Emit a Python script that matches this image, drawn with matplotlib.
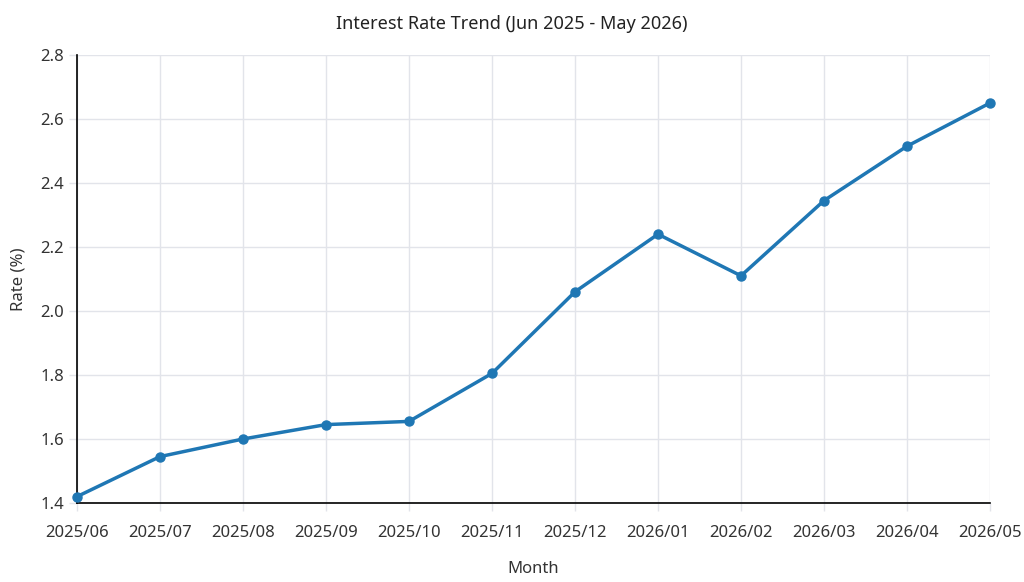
import matplotlib
matplotlib.use('Agg')
import matplotlib.pyplot as plt

months = ['2025/06', '2025/07', '2025/08', '2025/09', '2025/10', '2025/11',
          '2025/12', '2026/01', '2026/02', '2026/03', '2026/04', '2026/05']
rates = [1.42, 1.545, 1.60, 1.645, 1.655, 1.805, 2.06, 2.24, 2.11, 2.345, 2.515, 2.65]
yticks = [1.4, 1.6, 1.8, 2.0, 2.2, 2.4, 2.6, 2.8]

plt.rcParams['font.family'] = ['Noto Sans', 'DejaVu Sans']

fig = plt.figure(figsize=(10.24, 5.82), dpi=100)
ax = fig.add_axes([77 / 1024, 1 - 503 / 582, (990 - 77) / 1024, (503 - 55) / 582])

x = list(range(len(months)))
ax.plot(x, rates, color='#1f77b4', linewidth=2.5, marker='o', markersize=6.5, zorder=3, clip_on=False)

ax.set_xlim(0, len(months) - 1)
ax.set_ylim(1.4, 2.8)
ax.set_xticks(x)
ax.set_xticklabels(months)
ax.set_yticks(yticks)
ax.set_yticklabels([f'{v:.1f}' for v in yticks])

ax.grid(True, color='#e2e4ea', linewidth=1)
ax.set_axisbelow(True)
for side in ['top', 'right']:
    ax.spines[side].set_visible(False)
for side in ['left', 'bottom']:
    ax.spines[side].set_color('black')
    ax.spines[side].set_linewidth(1.2)
ax.tick_params(axis='both', colors='#e2e4ea', labelcolor='#333333', labelsize=12, length=6, width=1)
ax.tick_params(axis='x', pad=10)

ax.set_xlabel('Month', fontsize=12, color='#333333', labelpad=14)
ax.set_ylabel('Rate (%)', fontsize=12, color='#333333', labelpad=10)
fig.suptitle('Interest Rate Trend (Jun 2025 - May 2026)', fontsize=13, color='#222222', y=0.975)

fig.savefig('out.png', dpi=100)
